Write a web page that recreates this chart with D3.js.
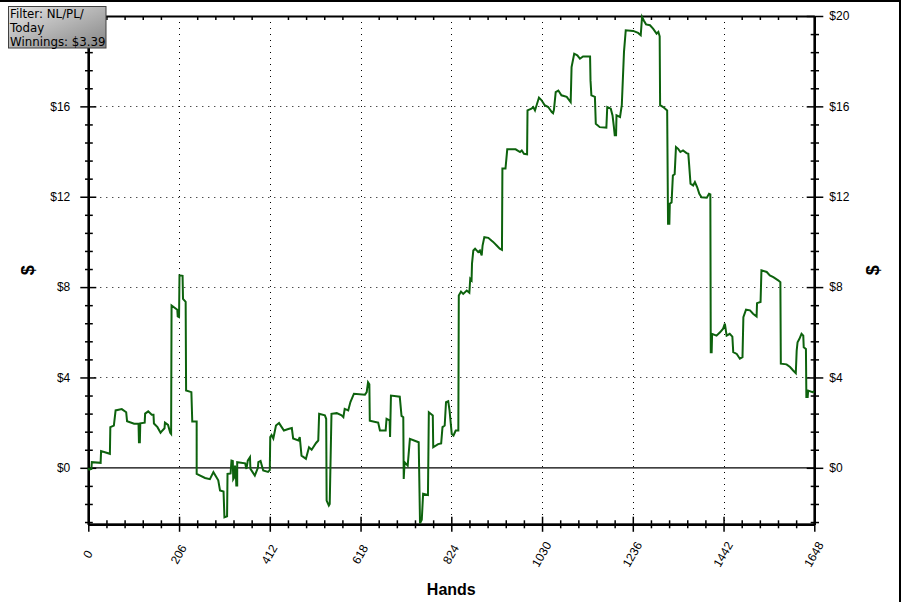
<!DOCTYPE html>
<html>
<head>
<meta charset="utf-8">
<script src="https://cdn.jsdelivr.net/npm/d3@7/dist/d3.min.js"></script>
<style>
  html, body { margin: 0; padding: 0; background: #fff; }
  svg { display: block; }
  .tick text { font-family: "Liberation Sans", Arial, sans-serif; font-size: 12px; fill: #000; }
</style>
</head>
<body>
<svg id="chart" width="904" height="602"></svg>
<script>
// ---------- data ----------
const hands = [
  0,2,7,8,28,29,49,50,58,62,76,86,88,104,114,115,117,118,128,129,136,144,148,149,157,164,166,173,174,181,186,188,189,202,203,206,207,214,215,221,222,234,236,246,246,265,276,284,295,299,307,309,315,316,323,325,328,329,332,333,335,336,338,338,356,359,362,367,368,370,378,385,386,391,397,408,412,413,416,420,426,433,439,444,454,462,465,477,480,484,494,501,507,517,522,524,537,540,541,546,548,552,564,575,579,582,590,595,603,628,632,635,638,639,654,658,662,675,677,684,685,687,707,711,715,716,718,725,730,741,750,753,757,760,771,773,782,783,794,801,804,809,812,817,820,825,829,834,840,841,846,851,859,865,867,870,871,874,878,885,889,893,895,899,908,915,919,927,934,939,940,947,951,970,980,984,989,996,997,1006,1010,1014,1023,1029,1036,1044,1052,1055,1057,1061,1067,1074,1086,1089,1095,1097,1103,1110,1116,1123,1139,1140,1142,1150,1152,1161,1176,1178,1186,1190,1193,1195,1198,1199,1207,1211,1216,1220,1237,1248,1254,1257,1261,1266,1275,1282,1290,1294,1297,1298,1305,1314,1316,1319,1320,1324,1327,1331,1334,1339,1344,1350,1358,1362,1364,1367,1373,1377,1382,1387,1392,1404,1409,1412,1413,1415,1416,1426,1434,1441,1445,1449,1456,1462,1464,1472,1479,1485,1487,1493,1502,1509,1517,1518,1526,1528,1540,1547,1555,1566,1571,1572,1585,1593,1600,1606,1608,1610,1614,1619,1623,1624,1629,1630,1633,1634,1644,1648
];
const winnings = [
  0,-0.08,-0.05,0.25,0.22,0.74,0.62,1.8,1.87,2.54,2.6,2.46,2.06,1.95,1.95,1.13,1.13,1.97,2.0,2.4,2.5,2.35,2.35,1.96,1.8,1.55,1.6,1.75,2.0,1.9,1.55,1.5,7.19,7.0,6.7,6.67,8.52,8.5,7.48,7.35,3.42,3.35,2.05,2.05,-0.27,-0.45,-0.5,-0.19,-0.55,-1.0,-1.05,-2.19,-2.15,-0.27,-0.25,0.32,0.3,-0.5,-0.4,0.1,-0.3,-0.78,-0.78,0.25,0.2,-0.05,0.32,0.47,-0.05,-0.1,-0.34,0.0,0.25,0.3,-0.12,-0.18,-0.1,1.36,1.45,1.3,1.87,1.98,1.8,1.65,1.72,1.76,1.3,1.21,1.36,0.54,0.4,0.91,0.8,1.1,1.21,2.39,2.32,2.17,-1.45,-1.67,-1.6,2.39,2.42,2.32,2.24,2.61,2.54,2.91,3.28,3.24,3.35,3.79,3.7,2.09,2.02,2.0,1.65,1.65,2.17,2.1,1.36,3.2,3.15,2.3,2.24,-0.49,0.25,0.1,1.28,1.2,1.13,-2.45,-2.3,-1.15,-1.2,2.46,2.32,0.91,1.05,1.08,1.8,1.87,2.91,2.95,2.54,1.5,1.43,1.65,1.65,7.63,7.8,7.7,7.85,7.75,8.37,8.3,9.04,9.62,9.7,9.55,9.62,9.4,9.84,10.21,10.18,10.06,10.0,9.84,9.7,9.65,13.25,13.25,14.1,14.1,13.98,14.05,13.9,13.88,15.82,15.9,15.97,15.82,16.39,16.27,16.05,15.97,15.75,15.7,15.85,16.63,16.7,16.49,16.42,16.34,16.19,17.74,18.33,18.26,18.11,18.21,18.21,17.15,16.49,16.42,15.23,15.08,15.06,15.97,15.9,15.6,15.1,14.72,14.72,15.6,15.53,16.05,18.41,19.37,19.34,19.25,19.15,19.96,19.8,19.63,19.59,19.44,19.22,19.3,19.1,16.05,15.97,15.82,10.8,10.8,11.69,11.75,12.94,13.0,14.2,14.12,13.98,14.05,13.93,13.9,13.39,12.58,12.5,12.65,12.43,12.13,11.98,11.96,12.13,12.1,5.12,5.12,5.93,5.85,6.0,6.16,6.38,5.85,5.93,5.81,5.12,5.04,4.83,4.9,6.67,7.0,6.97,6.82,6.7,7.29,7.34,8.74,8.67,8.52,8.44,8.3,8.22,4.61,4.58,4.46,4.31,4.19,5.19,5.56,5.7,5.93,5.85,5.34,5.26,3.13,3.13,3.42,3.35,3.39
];
const xTicks = [0, 206, 412, 618, 824, 1030, 1236, 1442, 1648];
const yTicks = [0, 4, 8, 12, 16, 20];
const yTickLabels = ["$0", "$4", "$8", "$12", "$16", "$20"];
const legendLines = ["Filter: NL/PL/", "Today", "Winnings: $3.39"];
const xTitle = "Hands";
const yTitle = "$";

(function () {
// ---------- layout ----------
const svg = d3.select("#chart");
const pL = 88.3, pR = 814.3, pT = 16, pB = 524.3;
const x = d3.scaleLinear().domain([0, 1648]).range([pL, pR]);
const y = d3.scaleLinear().domain([-2.5, 20]).range([pB, pT]);

const xMinor = d3.range(0, 1648.1, 41.2).filter(v => !xTicks.some(t => Math.abs(t - v) < 1));
const yMinor = d3.range(-2.4, 20.01, 0.8).map(v => +v.toFixed(2)).filter(v => !yTicks.some(t => Math.abs(t - v) < 0.01));

// outer frame
svg.append("line").attr("x1", 0).attr("x2", 901).attr("y1", 1).attr("y2", 1).attr("stroke", "#000").attr("stroke-width", 2);
svg.append("line").attr("x1", 900).attr("x2", 900).attr("y1", 0).attr("y2", 602).attr("stroke", "#000").attr("stroke-width", 2);

// gridlines
const grid = svg.append("g");
grid.selectAll(".vg").data(xTicks.filter(t => t > 0 && t < 1648)).enter().append("line")
  .attr("x1", d => Math.round(x(d)) + 0.5).attr("x2", d => Math.round(x(d)) + 0.5)
  .attr("y1", pT).attr("y2", pB)
  .attr("stroke", "#000").attr("stroke-width", 1).attr("stroke-dasharray", "1,5");
grid.selectAll(".hg").data(yTicks.filter(t => t > 0 && t < 20)).enter().append("line")
  .attr("x1", pL).attr("x2", pR)
  .attr("y1", d => Math.round(y(d)) + 0.5).attr("y2", d => Math.round(y(d)) + 0.5)
  .attr("stroke", "#000").attr("stroke-width", 1).attr("stroke-dasharray", "1,5");
// zero line
svg.append("line").attr("x1", pL).attr("x2", pR)
  .attr("y1", y(0)).attr("y2", y(0)).attr("stroke", "#000").attr("stroke-width", 1.3);

function styleAxis(g, w) {
  g.select(".domain").attr("stroke", "#000").attr("stroke-width", w);
  g.selectAll(".tick line").attr("stroke", "#000").attr("stroke-width", 1.5);
}
function axisAt(axis, tx, ty) {
  const g = svg.append("g").attr("transform", `translate(${tx},${ty})`).call(axis);
  styleAxis(g, 2);
  return g;
}

// left axis (the top label sits under the filter box in the original, so it is not drawn there)
axisAt(d3.axisLeft(y).tickValues(yTicks).tickFormat((d, i) => d === 20 ? "" : yTickLabels[i]).tickSizeInner(8).tickSizeOuter(0).tickPadding(10), pL, 0);
axisAt(d3.axisRight(y).tickValues(yTicks).tickFormat("").tickSizeInner(8).tickSizeOuter(0), pL, 0);
axisAt(d3.axisLeft(y).tickValues(yMinor).tickFormat("").tickSizeInner(3.3).tickSizeOuter(0), pL, 0);
axisAt(d3.axisRight(y).tickValues(yMinor).tickFormat("").tickSizeInner(4.5).tickSizeOuter(0), pL, 0);

// right axis
axisAt(d3.axisRight(y).tickValues(yTicks).tickFormat((d, i) => yTickLabels[i]).tickSizeInner(9).tickSizeOuter(0).tickPadding(6), pR, 0);
axisAt(d3.axisLeft(y).tickValues(yTicks).tickFormat("").tickSizeInner(7.6).tickSizeOuter(0), pR, 0);
axisAt(d3.axisRight(y).tickValues(yMinor).tickFormat("").tickSizeInner(4.7).tickSizeOuter(0), pR, 0);
axisAt(d3.axisLeft(y).tickValues(yMinor).tickFormat("").tickSizeInner(3.6).tickSizeOuter(0), pR, 0);

// top axis (minor ticks pointing down)
axisAt(d3.axisTop(x).tickValues(xMinor).tickFormat("").tickSizeInner(-4).tickSizeOuter(0), 0, pT);

// bottom axis
const gb = axisAt(d3.axisBottom(x).tickValues(xTicks).tickFormat(d3.format("d")).tickSizeInner(7.5).tickSizeOuter(0), 0, pB);
gb.selectAll(".tick text")
  .attr("y", 0).attr("dy", "0.35em")
  .attr("text-anchor", "middle")
  .attr("transform", "translate(-1,30) rotate(-60)");
axisAt(d3.axisTop(x).tickValues(xTicks).tickFormat("").tickSizeInner(7.6).tickSizeOuter(0), 0, pB);
axisAt(d3.axisBottom(x).tickValues(xMinor).tickFormat("").tickSizeInner(4).tickSizeOuter(0), 0, pB);
axisAt(d3.axisTop(x).tickValues(xMinor).tickFormat("").tickSizeInner(4).tickSizeOuter(0), 0, pB);

// data line
const pts = hands.map((h, i) => [h, winnings[i]]);
svg.append("path").datum(pts)
  .attr("fill", "none").attr("stroke", "#0d620d").attr("stroke-width", 2)
  .attr("stroke-linejoin", "miter")
  .attr("d", d3.line().x(d => x(d[0])).y(d => y(d[1])));

// titles
svg.append("text").attr("x", (pL + pR) / 2).attr("y", 595)
  .attr("text-anchor", "middle").attr("font-family", "Liberation Sans, Arial, sans-serif")
  .attr("font-weight", "bold").attr("font-size", 16).text(xTitle);
[27.7, 873].forEach(cx => {
  svg.append("text").attr("transform", `translate(${cx},${(pT + pB) / 2}) rotate(-90)`)
    .attr("text-anchor", "middle").attr("dy", "0.35em")
    .attr("font-family", "Liberation Sans, Arial, sans-serif")
    .attr("font-weight", "bold").attr("font-size", 18).text(yTitle);
});

// legend box
const defs = svg.append("defs");
const grad = defs.append("linearGradient").attr("id", "lg").attr("x1", "0").attr("y1", "0").attr("x2", "1").attr("y2", "1");
grad.append("stop").attr("offset", "0").attr("stop-color", "#e4e4e4");
grad.append("stop").attr("offset", "1").attr("stop-color", "#858585");
svg.append("rect").attr("x", 8.5).attr("y", 6.5).attr("width", 97.5).attr("height", 41.5)
  .attr("fill", "url(#lg)").attr("stroke", "#404040").attr("stroke-width", 1);
svg.append("g").selectAll("text").data(legendLines).enter().append("text")
  .attr("x", 10).attr("y", (d, i) => 17.5 + i * 14)
  .attr("font-family", "DejaVu Sans, Verdana, sans-serif").attr("font-size", 11.8)
  .attr("fill", "#000").text(d => d);
})();
</script>
</body>
</html>
